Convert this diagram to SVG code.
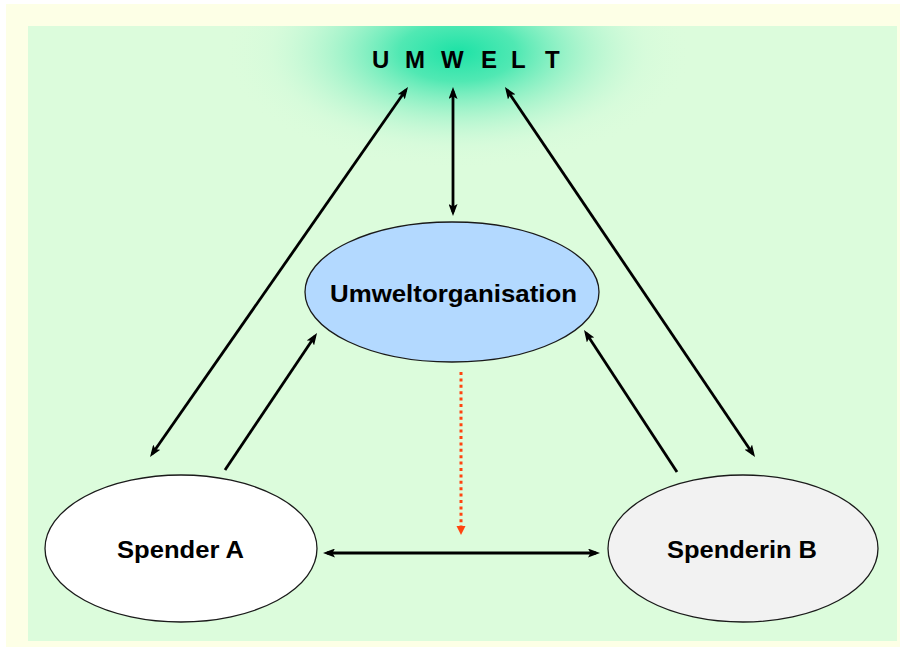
<svg xmlns="http://www.w3.org/2000/svg" width="900" height="648" viewBox="0 0 900 648">
  <defs>
    <style>
      .lbl { font-family: "Liberation Sans", Arial, sans-serif; font-weight: bold; fill: #000; }
      .node { stroke: #1a1a1a; stroke-width: 1.3; }
      .conn { stroke: #000; stroke-width: 2.8; fill: none; }
    </style>
    <radialGradient id="glow" cx="0.5" cy="0.5" r="0.5">
      <stop offset="0" stop-color="#1CE2A6" stop-opacity="1"/>
      <stop offset="0.25" stop-color="#38E5AC" stop-opacity="0.85"/>
      <stop offset="0.55" stop-color="#86EFC2" stop-opacity="0.5"/>
      <stop offset="0.8" stop-color="#C2F8D6" stop-opacity="0.2"/>
      <stop offset="1" stop-color="#DCFCDC" stop-opacity="0"/>
    </radialGradient>
    <clipPath id="greenclip">
      <rect x="28" y="26" width="869" height="615"/>
    </clipPath>
    <marker id="ah" viewBox="0 0 12 9" refX="8" refY="4.5" markerWidth="12" markerHeight="9" markerUnits="userSpaceOnUse" orient="auto-start-reverse">
      <path d="M0,0 L12,4.5 L0,9 L2.5,4.5 z" fill="#000"/>
    </marker>
  </defs>

  <rect x="0" y="0" width="900" height="648" fill="#FFFFFF"/>
  <rect x="6" y="4" width="894" height="643" fill="#FDFFE6"/>
  <rect x="28" y="26" width="869" height="615" fill="#DCFCDC"/>
  <ellipse cx="458" cy="52" rx="235" ry="118" fill="url(#glow)" clip-path="url(#greenclip)"/>

  <g id="umwelt">
    <text class="lbl" font-size="24" y="68"><tspan x="372">U</tspan><tspan x="405">M</tspan><tspan x="441">W</tspan><tspan x="481">E</tspan><tspan x="511">L</tspan><tspan x="545">T</tspan></text>
  </g>

  <g id="connectors">
    <line class="conn" x1="152.3" y1="453.7" x2="405.7" y2="90.3" marker-start="url(#ah)" marker-end="url(#ah)"/>
    <line class="conn" x1="225" y1="470" x2="314.8" y2="336.3" marker-end="url(#ah)"/>
    <line class="conn" x1="453" y1="91" x2="453" y2="212" marker-start="url(#ah)" marker-end="url(#ah)"/>
    <line class="conn" x1="507.2" y1="90.3" x2="752.8" y2="453.7" marker-start="url(#ah)" marker-end="url(#ah)"/>
    <line class="conn" x1="677" y1="472" x2="586.2" y2="333.3" marker-end="url(#ah)"/>
    <line class="conn" x1="327" y1="553" x2="596" y2="553" marker-start="url(#ah)" marker-end="url(#ah)"/>
    <line x1="461" y1="372" x2="461" y2="526" stroke="#FF4410" stroke-width="3" stroke-dasharray="3 3.4"/>
    <polygon points="456.5,526 465.5,526 461,535" fill="#FF4410"/>
  </g>

  <g id="umweltorganisation">
    <ellipse class="node" cx="452" cy="292" rx="147" ry="70" fill="#B3D9FF"/>
    <text class="lbl" font-size="24" x="453.5" y="302" text-anchor="middle" textLength="247" lengthAdjust="spacingAndGlyphs">Umweltorganisation</text>
  </g>

  <g id="spenderA">
    <ellipse class="node" cx="181" cy="548.5" rx="136" ry="73.5" fill="#FFFFFF"/>
    <text class="lbl" font-size="23" x="180.5" y="558" text-anchor="middle" textLength="127" lengthAdjust="spacingAndGlyphs">Spender A</text>
  </g>

  <g id="spenderinB">
    <ellipse class="node" cx="743" cy="548.5" rx="135" ry="73.5" fill="#F2F2F2"/>
    <text class="lbl" font-size="23" x="742" y="558" text-anchor="middle" textLength="150" lengthAdjust="spacingAndGlyphs">Spenderin B</text>
  </g>
</svg>
